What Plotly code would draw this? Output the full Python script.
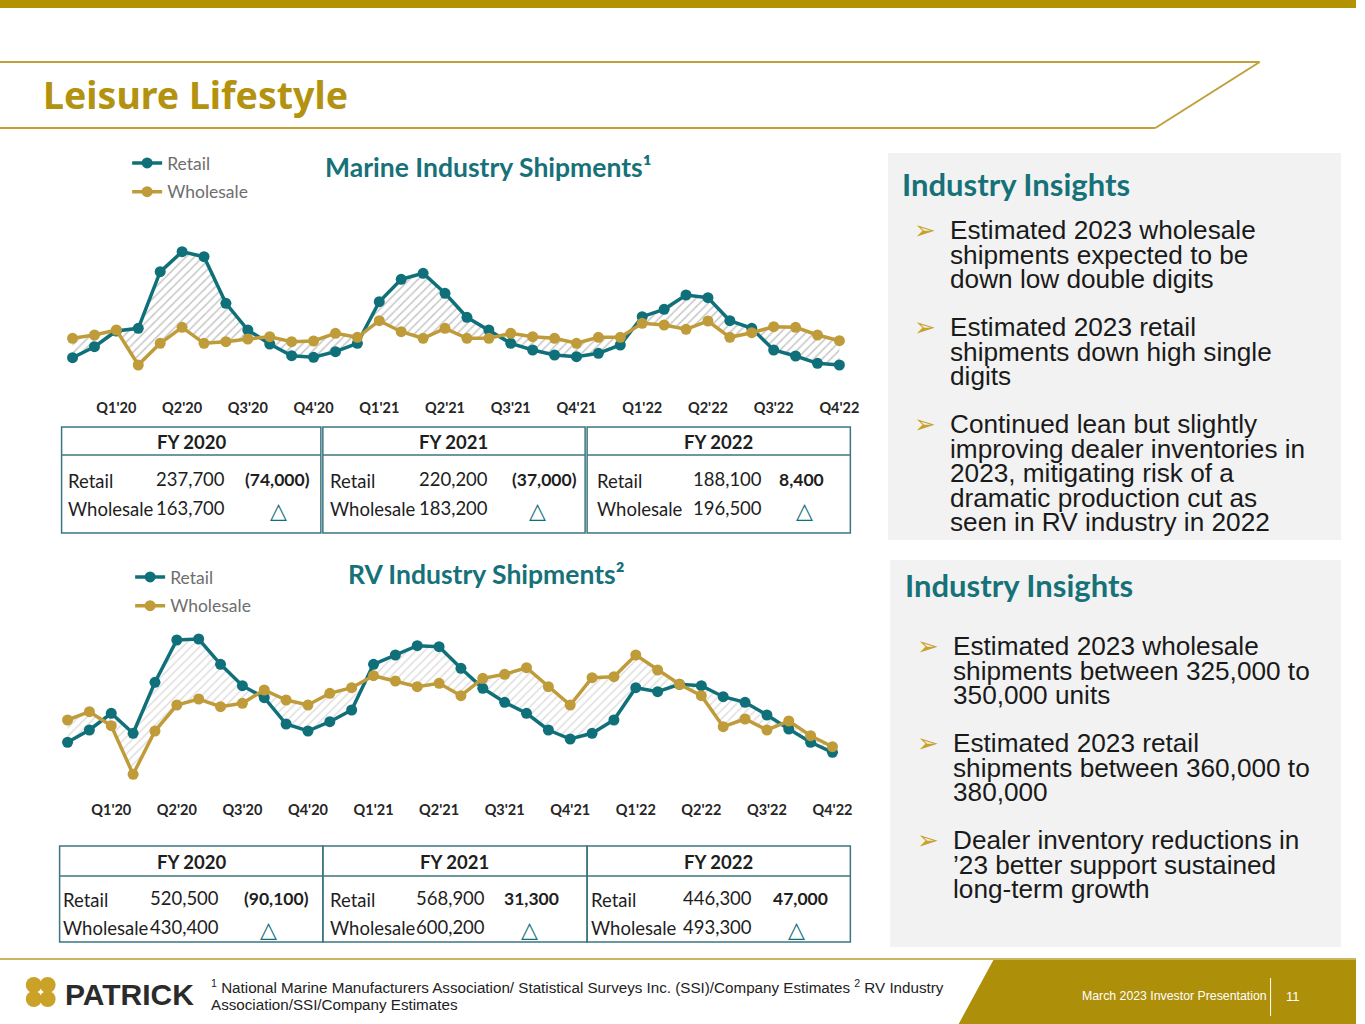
import plotly.graph_objects as go

W, H = 1365, 1024

# ---------------- data ----------------
month_names = ["Jan", "Feb", "Mar", "Apr", "May", "Jun", "Jul", "Aug", "Sep", "Oct", "Nov", "Dec"]
months = [f"{m}'{y}" for y in ["20", "21", "22"] for m in month_names]

quarter_ticks = ["Mar'20", "Jun'20", "Sep'20", "Dec'20", "Mar'21", "Jun'21",
                 "Sep'21", "Dec'21", "Mar'22", "Jun'22", "Sep'22", "Dec'22"]
quarter_labels = ["Q1'20", "Q2'20", "Q3'20", "Q4'20", "Q1'21", "Q2'21",
                  "Q3'21", "Q4'21", "Q1'22", "Q2'22", "Q3'22", "Q4'22"]

# relative monthly shipment levels read from the (axis-less) chart
marine_retail = [22.3, 33.3, 49.0, 51.7, 108.3, 128.3, 123.3, 76.7, 50.0, 36.0, 24.3, 22.7,
                 28.3, 36.7, 78.3, 100.7, 106.7, 86.7, 62.7, 50.0, 36.7, 30.0, 25.0, 23.3,
                 26.7, 35.0, 63.3, 70.7, 85.0, 82.3, 59.3, 51.7, 30.0, 24.0, 16.7, 15.0]
marine_wholesale = [41.7, 45.0, 50.0, 15.0, 36.7, 52.7, 36.7, 38.3, 41.0, 43.3, 38.3, 39.0,
                    46.7, 42.7, 59.3, 48.3, 41.7, 51.7, 41.7, 41.7, 46.7, 43.3, 41.7, 36.7,
                    42.7, 42.7, 56.7, 55.0, 50.7, 59.0, 42.7, 47.3, 53.3, 52.7, 45.0, 39.3]
rv_retail = [57.7, 70.0, 86.7, 66.7, 117.7, 160.0, 161.0, 135.7, 114.3, 102.3, 76.0, 69.0,
             78.3, 90.0, 135.7, 145.0, 154.3, 153.3, 131.7, 111.7, 97.7, 86.7, 70.0, 61.0,
             66.7, 80.0, 112.3, 108.3, 115.7, 114.3, 103.3, 97.7, 85.0, 71.0, 57.7, 47.7]
rv_wholesale = [80.0, 88.3, 74.3, 25.7, 69.0, 95.0, 101.0, 93.3, 96.7, 110.0, 100.0, 95.0,
                106.7, 112.3, 124.3, 119.0, 113.3, 116.7, 104.3, 121.7, 125.7, 132.3, 113.3, 95.0,
                122.3, 123.3, 145.0, 130.0, 115.7, 104.3, 73.3, 81.0, 70.0, 79.0, 64.3, 53.3]

fy_labels = ["FY 2020", "FY 2021", "FY 2022"]
marine_fy_retail = ["237,700", "220,200", "188,100"]
marine_fy_wholesale = ["163,700", "183,200", "196,500"]
marine_fy_delta = ["(74,000)", "(37,000)", "8,400"]
rv_fy_retail = ["520,500", "568,900", "446,300"]
rv_fy_wholesale = ["430,400", "600,200", "493,300"]
rv_fy_delta = ["(90,100)", "31,300", "47,000"]

insights_marine = [
    ["Estimated 2023 wholesale", "shipments expected to be", "down low double digits"],
    ["Estimated 2023 retail", "shipments down high single", "digits"],
    ["Continued lean but slightly", "improving dealer inventories in", "2023, mitigating risk of a",
     "dramatic production cut as", "seen in RV industry in 2022"],
]
insights_rv = [
    ["Estimated 2023 wholesale", "shipments between 325,000 to", "350,000 units"],
    ["Estimated 2023 retail", "shipments between 360,000 to", "380,000"],
    ["Dealer inventory reductions in", "\u201923 better support sustained", "long-term growth"],
]

# ---------------- styles ----------------
TEAL = "#10707A"
GOLD_LINE = "#BF9B3A"
GOLD = "#B39200"
TITLE_GOLD = "#B3920F"
HEAD_TEAL = "#167178"
DARK = "#1E1E1E"
CAL = "Lato, Open Sans, sans-serif"
ARIAL = "Liberation Sans, Arial, sans-serif"


def px(x):
    return x / W


def py(y):
    return 1 - y / H


annotations = []
shapes = []


def text(x, y, s, size, color=DARK, family=CAL, xanchor="left", yanchor="middle"):
    annotations.append(dict(x=px(x), y=py(y), xref="paper", yref="paper", text=s,
                            showarrow=False, xanchor=xanchor, yanchor=yanchor,
                            font=dict(size=size, color=color, family=family)))


def line(x0, y0, x1, y1, color, width):
    shapes.append(dict(type="line", xref="paper", yref="paper", x0=px(x0), y0=py(y0),
                       x1=px(x1), y1=py(y1), line=dict(color=color, width=width)))


def rect(x0, y0, x1, y1, fill, color="rgba(0,0,0,0)", width=0, layer="below"):
    shapes.append(dict(type="rect", xref="paper", yref="paper", x0=px(x0), y0=py(y0),
                       x1=px(x1), y1=py(y1), fillcolor=fill, layer=layer,
                       line=dict(color=color, width=width)))


fig = go.Figure()


def add_chart(retail, wholesale, xa, ya, legend, hatch):
    fig.add_trace(go.Scatter(x=months, y=retail, mode="lines", line=dict(width=0),
                             showlegend=False, hoverinfo="skip", xaxis=xa, yaxis=ya))
    fig.add_trace(go.Scatter(x=months, y=wholesale, mode="lines", line=dict(width=0),
                             fill="tonexty", fillcolor="rgba(255,255,255,0)",
                             fillpattern=dict(shape="/", fgcolor=hatch, bgcolor="white",
                                              size=6, solidity=0.25),
                             showlegend=False, hoverinfo="skip", xaxis=xa, yaxis=ya))
    fig.add_trace(go.Scatter(x=months, y=retail, name="Retail", mode="lines+markers",
                             line=dict(color=TEAL, width=3.5), marker=dict(size=11, color=TEAL),
                             xaxis=xa, yaxis=ya, legend=legend, legendgroup=legend + "r"))
    fig.add_trace(go.Scatter(x=months, y=wholesale, name="Wholesale", mode="lines+markers",
                             line=dict(color=GOLD_LINE, width=3.5),
                             marker=dict(size=11, color=GOLD_LINE),
                             xaxis=xa, yaxis=ya, legend=legend, legendgroup=legend + "w"))


add_chart(marine_retail, marine_wholesale, "x", "y", "legend", "#8C8C8C")
add_chart(rv_retail, rv_wholesale, "x2", "y2", "legend2", "#BDBDBD")

xaxis_common = dict(type="category", range=[-0.5, 35.5], tickvals=quarter_ticks,
                    ticktext=quarter_labels, showgrid=False, zeroline=False, showline=False,
                    ticks="outside", tickcolor="rgba(0,0,0,0)",
                    tickfont=dict(family=CAL, size=14.5, color="#262626", weight="bold"))

# ---------------- slide decoration ----------------
rect(0, 0, W, 8, GOLD)
line(0, 62, 1268, 62, "#BFA03A", 2)
line(1268, 62, 1163, 128, "#BFA03A", 2)
line(1163, 128, 0, 128, "#BFA03A", 2)
text(41, 94, "<b>Leisure Lifestyle</b>", 37.5, TITLE_GOLD, "Noto Sans, DejaVu Sans, sans-serif")

# chart titles
text(325, 167, "<b>Marine Industry Shipments\u00b9</b>", 26.5, HEAD_TEAL)
text(348, 574, "<b>RV Industry Shipments\u00b2</b>", 26.5, HEAD_TEAL)

# tables
BOX = "#3C7680"


def table(top, hdr, bot, xs, label_x, val_end, delta_x, tri_x, retail, wholesale, delta,
          row1, row2):
    for i in range(3):
        x0, x1 = xs[i]
        rect(x0, top, x1, bot, "rgba(0,0,0,0)", BOX, 1.5, layer="above")
        line(x0, hdr, x1, hdr, BOX, 1.5)
        text((x0 + x1) / 2, (top + hdr) / 2 + 1, "<b>" + fy_labels[i] + "</b>", 18.5, DARK,
             xanchor="center")
        text(label_x[i], row1 + 2, "Retail", 18.5)
        text(label_x[i], row2 + 1, "Wholesale", 18.5)
        text(val_end[i], row1, retail[i], 18.5, xanchor="right")
        text(val_end[i], row2, wholesale[i], 18.5, xanchor="right")
        text(delta_x[i], row1, "<b>" + delta[i] + "</b>", 17.5)
        text(tri_x[i], row2 + 2, "\u25b3", 22, TEAL, "DejaVu Sans, sans-serif", xanchor="center")


table(427, 455, 533, [(62, 323), (325, 589), (591, 856)], [66, 330, 599], [229, 493, 769],
      [245, 513, 782], [280, 541, 810], marine_fy_retail, marine_fy_wholesale,
      marine_fy_delta, 479, 508)
table(846, 876, 942, [(60, 325), (325, 591), (591, 856)], [61, 330, 593], [222, 490, 759],
      [244, 505, 776], [270, 533, 802], rv_fy_retail, rv_fy_wholesale, rv_fy_delta,
      898, 927)

# insight panels


def panel(x0, y0, x1, y1, title_x, title_y, arrow_x, text_x, starts, items):
    rect(x0, y0, x1, y1, "#F2F2F2")
    text(title_x, title_y, "<b>Industry Insights</b>", 31, HEAD_TEAL)
    for start, lines in zip(starts, items):
        text(arrow_x, start, "\u27a2", 26, "#C9A227", "DejaVu Sans, sans-serif")
        for k, s in enumerate(lines):
            text(text_x, start + 24.5 * k, s, 26.2, "#1A1A1A", ARIAL)


panel(894, 153, 1350, 540, 906, 184, 918, 954, [230, 327, 424], insights_marine)
panel(896, 560, 1350, 947, 909, 585, 921, 957, [646, 743, 840], insights_rv)

# footer
line(0, 959, W, 959, "#CDB460", 2)
shapes.append(dict(type="path", xref="paper", yref="paper",
                   path=f"M {px(1000)},{py(960)} L 1,{py(960)} L 1,0 L {px(965)},0 Z",
                   fillcolor="#AE8F0A", line=dict(width=0), layer="below"))
text(1087, 996, "March 2023 Investor Presentation", 12.3, "white", ARIAL)
line(1279, 978, 1279, 1016, "white", 1)
text(1293, 996, "11", 13, "white", ARIAL)
for cx, cy in [(34, 985), (48, 985), (34, 999), (48, 999)]:
    shapes.append(dict(type="circle", xref="paper", yref="paper", x0=px(cx - 8), y0=py(cy + 8),
                       x1=px(cx + 8), y1=py(cy - 8), fillcolor="#C9A227", line=dict(width=0)))
text(63, 994, "<b>PATRICK</b>", 30, "#2B2B2B", ARIAL)
text(210, 986, "<sup>1</sup> National Marine Manufacturers Association/ Statistical Surveys Inc. (SSI)/Company Estimates <sup>2</sup> RV Industry",
     15.2, "#222222", ARIAL)
text(210, 1004, "Association/SSI/Company Estimates", 15.2, "#222222", ARIAL)

legend_common = dict(xanchor="left", yanchor="top", bgcolor="rgba(0,0,0,0)",
                     font=dict(family=CAL, size=17.5, color="#6E6E6E"), tracegroupgap=3,
                     itemclick=False)

fig.update_layout(
    width=W, height=H, margin=dict(l=0, r=0, t=0, b=0),
    paper_bgcolor="white", plot_bgcolor="rgba(0,0,0,0)",
    xaxis=dict(domain=[px(62), px(856)], anchor="y", ticklen=10, **xaxis_common),
    yaxis=dict(domain=[py(385), py(220)], range=[-5, 160], visible=False),
    xaxis2=dict(domain=[px(57), px(849)], anchor="y2", ticklen=7, **xaxis_common),
    yaxis2=dict(domain=[py(790), py(620)], range=[10, 180], visible=False),
    legend=dict(x=px(128), y=py(145), **legend_common),
    legend2=dict(x=px(131), y=py(559), **legend_common),
    shapes=shapes, annotations=annotations,
)

fig.write_html("out.html", config={"displayModeBar": False},
               post_script="document.body.style.margin='0';document.documentElement.style.overflow='hidden';document.body.style.overflow='hidden';")
